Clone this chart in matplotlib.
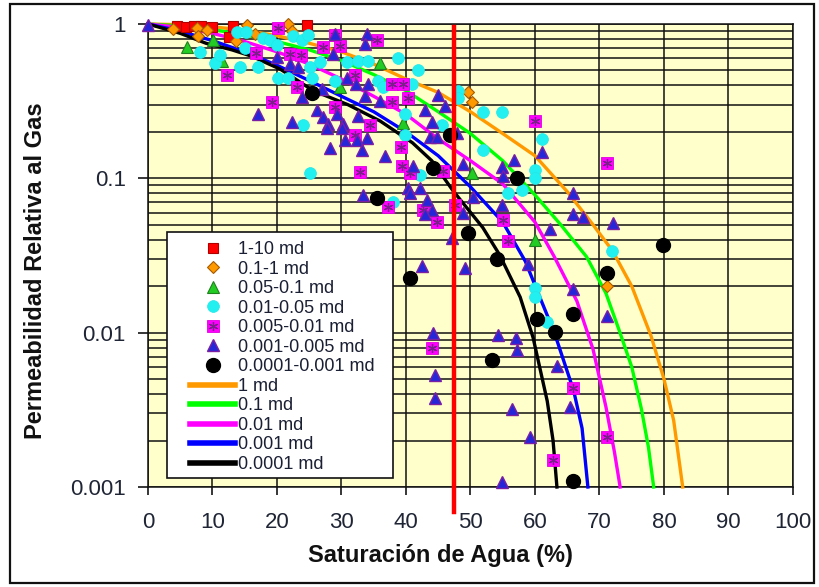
import matplotlib
matplotlib.use("Agg")
import matplotlib.pyplot as plt
from matplotlib.patches import Rectangle
from matplotlib.ticker import FixedLocator, FixedFormatter, NullFormatter, LogLocator

plt.rcParams['font.family'] = ['Liberation Sans', 'DejaVu Sans']

# ---------------- measured samples (Sw %, krg) by permeability class ----------------
labels_pts = ["1-10 md", "0.1-1 md", "0.05-0.1 md", "0.01-0.05 md",
              "0.005-0.01 md", "0.001-0.005 md", "0.0001-0.001 md"]

sw_1_10 = [4.5, 5.9, 7.1, 8.2, 9.9, 13.2, 12.6, 24.7]
kr_1_10 = [0.97, 0.96, 0.97, 0.97, 0.96, 0.97, 0.82, 0.99]

sw_01_1 = [3.9, 7.6, 7.8, 9.1, 15.3, 16.6, 13.6, 21.7, 22.3, 49.6, 50.2, 71.2]
kr_01_1 = [0.93, 0.94, 0.84, 0.91, 0.985, 0.86, 0.78, 0.995, 0.90, 0.36, 0.31, 0.020]

sw_005_01 = [6.0, 10.1, 11.5, 29.8, 36.0, 39.5, 50.2, 60.0]
kr_005_01 = [0.71, 0.79, 0.58, 0.39, 0.56, 0.23, 0.108, 0.040]

sw_001_005 = [8.1, 10.4, 11.2, 13.8, 15.2, 14.3, 17.1, 15.0, 17.8, 18.9,
              20.0, 22.5, 23.9, 24.8, 20.2, 21.7, 25.1, 25.4, 26.7, 29.0,
              24.0, 25.1, 30.9, 32.6, 34.1, 35.7, 36.4, 38.8, 41.9, 40.9,
              39.8, 39.8, 42.2, 45.6, 48.1, 48.1, 51.9, 54.9, 51.9, 61.1,
              60.0, 60.0, 55.8, 58.0, 71.9, 60.0, 60.0, 61.9, 38.0]
kr_001_005 = [0.66, 0.56, 0.63, 0.89, 0.89, 0.53, 0.53, 0.70, 0.81, 0.79,
              0.73, 0.84, 0.79, 0.85, 0.45, 0.45, 0.53, 0.45, 0.57, 0.43,
              0.22, 0.108, 0.57, 0.58, 0.58, 0.43, 0.39, 0.60, 0.50, 0.41,
              0.26, 0.19, 0.105, 0.22, 0.37, 0.33, 0.27, 0.27, 0.152, 0.18,
              0.113, 0.101, 0.080, 0.084, 0.034, 0.0196, 0.0169, 0.0117, 0.070]

sw_0005_001 = [20.2, 16.7, 12.2, 22.0, 23.7, 23.1, 19.2, 29.0, 29.0, 29.8,
               27.1, 35.5, 32.1, 37.8, 39.5, 40.3, 37.8, 34.4, 39.2, 39.4,
               32.9, 32.1, 45.7, 40.6, 37.2, 42.6, 44.8, 47.6, 60.0, 71.2,
               55.0, 55.8, 44.0, 65.9, 71.2, 62.8]
kr_0005_001 = [0.94, 0.65, 0.47, 0.64, 0.63, 0.39, 0.31, 0.29, 0.85, 0.72,
               0.71, 0.79, 0.47, 0.41, 0.41, 0.33, 0.31, 0.22, 0.16, 0.12,
               0.11, 0.19, 0.111, 0.108, 0.065, 0.062, 0.052, 0.067, 0.235, 0.125,
               0.0535, 0.039, 0.0080, 0.0044, 0.0021, 0.0015]

sw_0001_0005 = [0.0, 17.1, 22.3, 20.0, 22.0, 23.3, 23.9, 26.2, 27.1, 27.9,
                29.3, 30.2, 27.0, 29.0, 28.7, 30.9, 28.2, 32.4, 33.2, 34.0,
                36.7, 34.0, 33.6, 33.6, 36.0, 32.2, 34.1, 32.6, 42.9, 45.0,
                46.0, 44.0, 43.7, 44.8, 47.9, 41.1, 48.8, 54.9, 56.7, 55.0,
                61.1, 65.9, 65.9, 67.4, 72.1, 50.4, 48.8, 54.9, 62.3, 47.1,
                58.9, 49.1, 65.9, 71.2, 54.3, 57.1, 57.2, 63.4, 44.2, 44.5,
                44.5, 56.4, 65.4, 59.2, 54.9, 27.8, 30.1, 30.5, 40.3, 42.2,
                33.3, 40.6, 43.3, 44.0, 42.9, 42.5]
kr_0001_0005 = [0.985, 0.26, 0.231, 0.611, 0.55, 0.526, 0.335, 0.277, 0.249, 0.224,
                0.26, 0.224, 0.378, 0.861, 0.639, 0.446, 0.157, 0.177, 0.152, 0.182,
                0.139, 0.861, 0.742, 0.34, 0.316, 0.408, 0.408, 0.253, 0.277, 0.346,
                0.293, 0.231, 0.185, 0.185, 0.196, 0.121, 0.123, 0.118, 0.131, 0.103,
                0.148, 0.080, 0.059, 0.056, 0.051, 0.076, 0.060, 0.067, 0.047, 0.041,
                0.028, 0.0263, 0.0193, 0.0129, 0.0096, 0.0093, 0.0077, 0.0061, 0.0100, 0.0053,
                0.0038, 0.0032, 0.0033, 0.0021, 0.00108, 0.211, 0.211, 0.177, 0.087, 0.086,
                0.078, 0.080, 0.072, 0.062, 0.059, 0.027]

sw_00001_0001 = [25.4, 35.5, 40.6, 44.2, 46.8, 57.2, 49.6, 54.1, 60.3, 63.1,
                 65.9, 71.2, 79.8, 53.3, 65.9]
kr_00001_0001 = [0.358, 0.075, 0.0226, 0.117, 0.190, 0.101, 0.044, 0.030, 0.0123, 0.0101,
                 0.0133, 0.0245, 0.0368, 0.0067, 0.00109]

# ---------------- correlation curves by permeability ----------------
labels_curves = ["1 md", "0.1 md", "0.01 md", "0.001 md", "0.0001 md"]

sw_c1 = [0, 5, 10, 15, 20, 25, 30, 35, 40, 45, 50, 55, 60, 65, 69, 72, 75, 78, 80, 81.5, 82.9]
kr_c1 = [1.0, 0.99, 0.96, 0.91, 0.84, 0.75, 0.66, 0.55, 0.44, 0.36, 0.27, 0.195, 0.14,
         0.082, 0.05, 0.034, 0.02, 0.0095, 0.005, 0.0027, 0.001]

sw_c01 = [0, 5, 10, 15, 20, 25, 30, 35, 40, 45, 50, 55, 60, 64, 68, 71, 73, 75, 76.5, 77.6, 78.4]
kr_c01 = [1.0, 0.97, 0.92, 0.85, 0.77, 0.68, 0.58, 0.47, 0.37, 0.27, 0.195, 0.13, 0.078,
          0.05, 0.031, 0.018, 0.0105, 0.006, 0.0032, 0.0018, 0.001]

sw_c001 = [0, 5, 10, 15, 20, 25, 30, 35, 40, 45, 50, 55, 60, 63, 66.5, 69, 71, 72.3, 73.2]
kr_c001 = [1.0, 0.95, 0.87, 0.77, 0.66, 0.55, 0.44, 0.34, 0.26, 0.18, 0.13, 0.092, 0.052,
           0.031, 0.016, 0.0078, 0.0033, 0.0017, 0.001]

sw_c0001 = [0, 5, 10, 15, 20, 25, 30, 35, 40, 45, 50, 55, 58.5, 61, 63, 66, 67.3, 68.2]
kr_c0001 = [1.0, 0.9, 0.78, 0.66, 0.54, 0.43, 0.34, 0.27, 0.2, 0.14, 0.088, 0.052, 0.029,
            0.016, 0.0100, 0.0042, 0.0024, 0.001]

sw_c00001 = [0, 5, 9, 13, 16, 20.5, 25.6, 31, 36, 41, 44, 47.3, 51.9, 54.5, 57.7, 59.7, 61.9, 62.8, 63.4]
kr_c00001 = [1.0, 0.87, 0.75, 0.68, 0.62, 0.51, 0.37, 0.30, 0.235, 0.17, 0.13, 0.083, 0.048,
             0.032, 0.017, 0.0093, 0.0036, 0.0020, 0.001]

sw_cutoff = 47.5

x_ticks = [0, 10, 20, 30, 40, 50, 60, 70, 80, 90, 100]
y_ticks = [0.001, 0.01, 0.1, 1]
y_ticklabels = ["0.001", "0.01", "0.1", "1"]

# ---------------- figure ----------------
W, H = 820, 587
fig = plt.figure(figsize=(W / 100, H / 100), dpi=100)
ax = fig.add_axes([148 / W, 1 - 487 / H, 645 / W, 463 / H])
ax.set_facecolor('#FFFFCC')
ax.set_yscale('log')
ax.set_xlim(0, 100)
ax.set_ylim(0.001, 1)

# grid: vertical every 10 %, horizontal on every log sub-division
ax.xaxis.set_major_locator(FixedLocator(x_ticks))
ax.yaxis.set_major_locator(FixedLocator(y_ticks))
ax.yaxis.set_major_formatter(FixedFormatter(y_ticklabels))
ax.yaxis.set_minor_locator(LogLocator(base=10, subs=range(2, 10), numticks=20))
ax.yaxis.set_minor_formatter(NullFormatter())
ax.grid(True, which='major', axis='both', color='#111111', lw=1.1)
ax.grid(True, which='minor', axis='y', color='#111111', lw=1.1)

tick_color = '#1f2535'
ax.tick_params(axis='x', which='major', direction='out', length=6, width=1.1,
               pad=12, labelsize=16, colors='black', labelcolor=tick_color)
ax.tick_params(axis='y', which='major', direction='out', length=7, width=1.1,
               pad=9, labelsize=16, colors='black', labelcolor=tick_color)
ax.tick_params(axis='y', which='minor', length=0)
for s in ax.spines.values():
    s.set_color('#111111')
    s.set_linewidth(1.1)

# curves
curve_lw = 2.4
c1, = ax.plot(sw_c1, kr_c1, color='#FF9900', lw=curve_lw, zorder=3, clip_on=False)
c2, = ax.plot(sw_c01, kr_c01, color='#00FF00', lw=curve_lw, zorder=3, clip_on=False)
c3, = ax.plot(sw_c001, kr_c001, color='#FF00FF', lw=curve_lw, zorder=3, clip_on=False)
c4, = ax.plot(sw_c0001, kr_c0001, color='#0000FF', lw=curve_lw, zorder=3, clip_on=False)
c5, = ax.plot(sw_c00001, kr_c00001, color='#000000', lw=curve_lw, zorder=3, clip_on=False)

# samples
p1, = ax.plot(sw_1_10, kr_1_10, ls='none', marker='s', ms=7.5, mfc='#FF0000',
              mec='#B00000', mew=0.8, zorder=4, clip_on=False)
p2, = ax.plot(sw_01_1, kr_01_1, ls='none', marker='D', ms=6.2, mfc='#FF9900',
              mec='#A85A00', mew=0.8, zorder=4.1, clip_on=False)
p3, = ax.plot(sw_005_01, kr_005_01, ls='none', marker='^', ms=9, mfc='#22CC22',
              mec='#208020', mew=0.8, zorder=4.2, clip_on=False)
p4, = ax.plot(sw_001_005, kr_001_005, ls='none', marker='o', ms=8.5, mfc='#22F0F0',
              mec='#22E6E6', mew=0.5, zorder=4.3, clip_on=False)
p5, = ax.plot(sw_0005_001, kr_0005_001, ls='none', marker='s', ms=8.5, mfc='#FF00FF',
              mec='#E000E0', mew=0.6, zorder=4.4, clip_on=False)
p5b, = ax.plot(sw_0005_001, kr_0005_001, ls='none', marker=(6, 2, 0), ms=6.5,
               mec='#7A1F8A', mew=0.9, zorder=4.45, clip_on=False)
p6, = ax.plot(sw_0001_0005, kr_0001_0005, ls='none', marker='^', ms=9, mfc='#2626D9',
              mec='#7B1FA2', mew=1.0, zorder=4.5, clip_on=False)
p7, = ax.plot(sw_00001_0001, kr_00001_0001, ls='none', marker='o', ms=10, mfc='#000000',
              mec='#000000', zorder=4.6, clip_on=False)

# cut-off line
ax.axvline(sw_cutoff, ymin=-0.054, ymax=0.994, color='#FF0000', lw=3.2,
           zorder=10, clip_on=False)

# axis titles
ax.set_xlabel("Saturación de Agua (%)", fontsize=17, fontweight='bold', color='#111111')
ax.xaxis.label.set_va('center')
ax.xaxis.set_label_coords(0.453, -0.149)
ax.set_ylabel("Permeabilidad Relativa al Gas", fontsize=17, fontweight='bold', color='#111111')
ax.yaxis.label.set_va('center')
ax.yaxis.set_label_coords(-0.175, 0.467)

# legend with an opaque frame
frame = Rectangle((0.0295, 0.0194), 0.3505, 0.532, transform=ax.transAxes,
                  facecolor='white', edgecolor='#111111', lw=1.2, zorder=20)
ax.add_patch(frame)
handles = [p1, p2, p3, p4, (p5, p5b), p6, p7, c1, c2, c3, c4, c5]
labels = labels_pts + labels_curves
leg = ax.legend(handles, labels, loc='upper left', bbox_to_anchor=(0.0651, 0.531),
                frameon=False, fontsize=13, handlelength=2.5, handletextpad=0.15,
                labelspacing=0.14, borderpad=0, borderaxespad=0, numpoints=1)
leg.set_zorder(21)
for t in leg.get_texts():
    t.set_color('#1a1f33')
for ln in leg.get_lines():
    if ln.get_linestyle() == '-':
        ln.set_linewidth(4.0)

# outer frame
fig.patches.append(Rectangle((10 / W, 4 / H), 804 / W, 579 / H, transform=fig.transFigure,
                             fill=False, edgecolor='#111111', lw=1.6))

fig.savefig("out.png", dpi=100)
